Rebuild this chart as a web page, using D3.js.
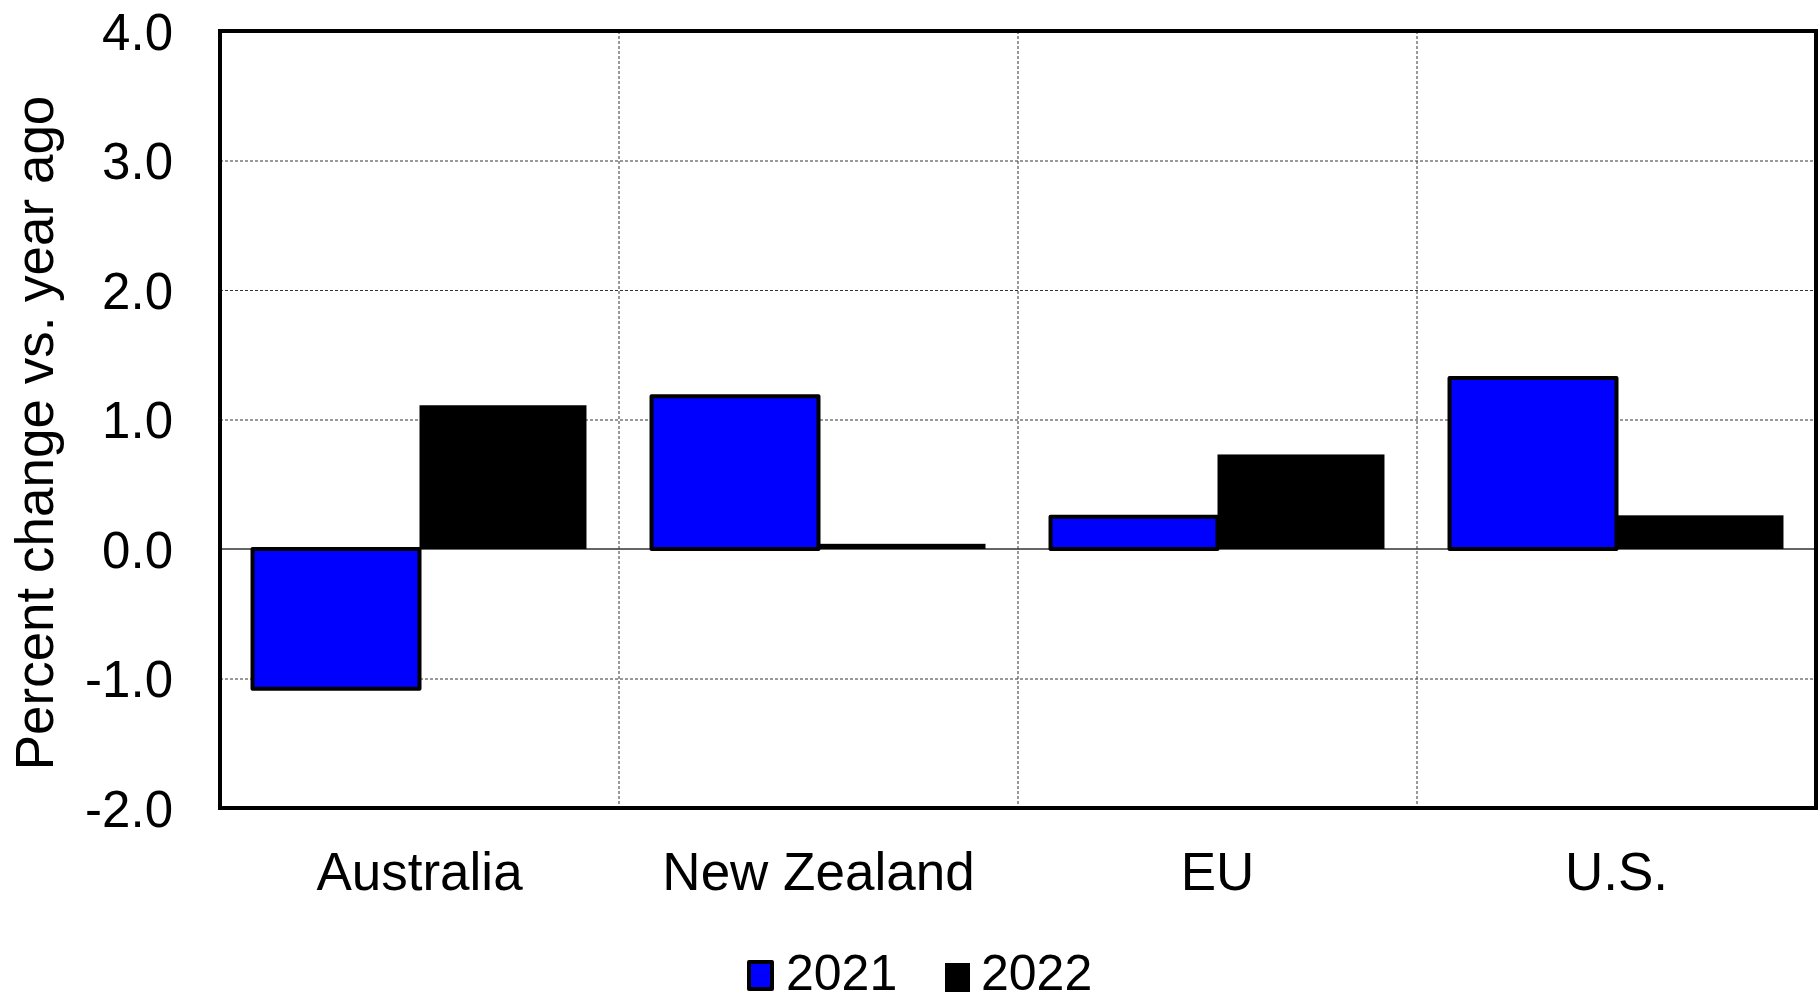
<!DOCTYPE html>
<html>
<head>
<meta charset="utf-8">
<script src="https://cdn.jsdelivr.net/npm/d3@7"></script>
<style>
  html, body { margin: 0; padding: 0; background: #fff; }
  svg { display: block; font-family: "Liberation Sans", Arial, Helvetica, sans-serif; }
</style>
</head>
<body>
<svg id="chart" width="1818" height="1003"></svg>
<script>
const categories = ["Australia", "New Zealand", "EU", "U.S."];
const seriesNames = ["2021", "2022"];
const values2021 = [-1.08, 1.18, 0.25, 1.32];
const values2022 = [1.11, 0.04, 0.73, 0.26];
const yTicks = [-2.0, -1.0, 0.0, 1.0, 2.0, 3.0, 4.0];
const seriesColors = ["#0000ff", "#000000"];

const plotL = 220, plotR = 1816, plotT = 31, plotB = 808;

const svg = d3.select("#chart");

const x0 = d3.scaleBand().domain(categories).range([plotL, plotR]).paddingInner(0).paddingOuter(0);
const bw = x0.bandwidth();
const gap = bw * 0.0815;
const x1 = d3.scaleBand().domain(seriesNames).range([gap, bw - gap]).padding(0);
const y = d3.scaleLinear().domain([-2, 4]).range([plotB, plotT]);

// horizontal gridlines
svg.append("g")
  .attr("transform", `translate(${plotL},0)`)
  .call(d3.axisLeft(y).tickValues(yTicks.filter(t => t > -2 && t < 4 && t !== 0)).tickSize(-(plotR - plotL)).tickFormat(""))
  .call(g => g.select(".domain").remove())
  .call(g => g.selectAll("line").attr("stroke", "#333").attr("stroke-width", 1).attr("stroke-dasharray", "3,2"));

// vertical gridlines at category boundaries
const bounds = categories.slice(1).map(c => x0(c));
svg.append("g").selectAll("line").data(bounds).join("line")
  .attr("x1", d => d).attr("x2", d => d)
  .attr("y1", plotT).attr("y2", plotB)
  .attr("stroke", "#333").attr("stroke-width", 1).attr("stroke-dasharray", "3,2");

// zero line
svg.append("line")
  .attr("x1", plotL).attr("x2", plotR)
  .attr("y1", y(0)).attr("y2", y(0))
  .attr("stroke", "#333").attr("stroke-width", 1.5);

const data = categories.map((c, i) => ({cat: c, vals: [values2021[i], values2022[i]]}));

const groups = svg.append("g").selectAll("g").data(data).join("g")
  .attr("transform", d => `translate(${x0(d.cat)},0)`);

groups.append("rect")
  .attr("x", x1("2022"))
  .attr("width", x1.bandwidth())
  .attr("y", d => y(Math.max(0, d.vals[1])))
  .attr("height", d => Math.abs(y(d.vals[1]) - y(0)))
  .attr("fill", seriesColors[1]);

groups.append("rect")
  .attr("x", x1("2021"))
  .attr("width", x1.bandwidth())
  .attr("y", d => y(Math.max(0, d.vals[0])))
  .attr("height", d => Math.abs(y(d.vals[0]) - y(0)))
  .attr("fill", seriesColors[0])
  .attr("stroke", "#000").attr("stroke-width", 4).attr("stroke-linejoin", "round");

// frame
svg.append("rect")
  .attr("x", plotL).attr("y", plotT)
  .attr("width", plotR - plotL).attr("height", plotB - plotT)
  .attr("fill", "none").attr("stroke", "#000").attr("stroke-width", 4);

// y axis tick labels (ASCII hyphen for negatives)
const fmt = d => d.toFixed(1);
svg.append("g")
  .attr("transform", `translate(${plotL},0)`)
  .call(d3.axisLeft(y).tickValues(yTicks).tickSize(0).tickPadding(47).tickFormat(fmt))
  .call(g => g.select(".domain").remove())
  .call(g => g.selectAll("text").attr("font-size", 51).attr("fill", "#000")
    .attr("font-family", "'Liberation Sans', Arial, sans-serif").attr("dy", "0.36em"));

// x axis category labels
svg.append("g")
  .attr("transform", `translate(0,${plotB})`)
  .call(d3.axisBottom(x0).tickSize(0).tickPadding(0))
  .call(g => g.select(".domain").remove())
  .call(g => g.selectAll("text").attr("font-size", 53).attr("fill", "#000")
    .attr("font-family", "'Liberation Sans', Arial, sans-serif")
    .attr("y", 82).attr("dy", 0));

// y axis title
svg.append("text")
  .attr("transform", `translate(53,${(98 + 768) / 2}) rotate(-90)`)
  .attr("text-anchor", "middle")
  .attr("font-size", 53)
  .attr("fill", "#000")
  .text("Percent change vs. year ago");

// legend
const legend = svg.append("g");
const legendItems = [
  {name: seriesNames[0], color: seriesColors[0], sx: 749, sy: 962, s: 23, stroke: true, tx: 786},
  {name: seriesNames[1], color: seriesColors[1], sx: 945, sy: 963, s: 25, stroke: false, tx: 981}
];
legendItems.forEach(it => {
  legend.append("rect")
    .attr("x", it.sx).attr("y", it.sy).attr("width", it.s).attr("height", it.s + 4)
    .attr("fill", it.color)
    .attr("stroke", it.stroke ? "#000" : "none").attr("stroke-width", 4).attr("stroke-linejoin", "round");
  legend.append("text")
    .attr("x", it.tx).attr("y", 990)
    .attr("font-size", 50).attr("fill", "#000")
    .text(it.name);
});
</script>
</body>
</html>
